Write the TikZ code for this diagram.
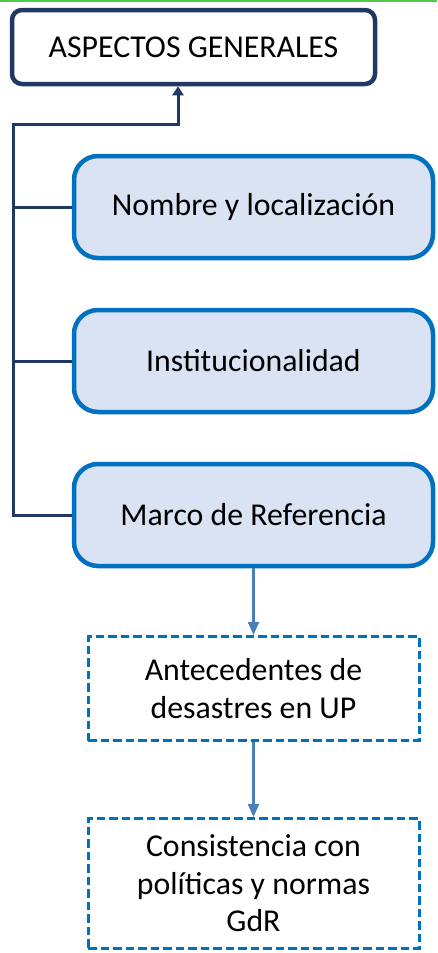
\documentclass[tikz,border=0pt]{standalone}
\usepackage{fontspec}
\setmainfont{Carlito}
\usetikzlibrary{arrows.meta,calc}
\definecolor{navy}{HTML}{1F3864}
\definecolor{bblue}{HTML}{0070C0}
\definecolor{lfill}{HTML}{DAE3F3}
\definecolor{arrblue}{HTML}{4A7EBB}
\definecolor{topgreen}{HTML}{4CCB4C}
\begin{document}
\begin{tikzpicture}[x=1pt,y=-1pt,
  txt/.style={font=\fontsize{31.8}{37.5}\selectfont, align=center, text=black},
  topbox/.style={txt, draw=navy, line width=4.5pt, rounded corners=10pt, fill=white, minimum width=363pt, minimum height=74pt, inner sep=0pt},
  mainbox/.style={txt, draw=bblue, line width=4.5pt, rounded corners=24pt, fill=lfill, minimum width=359pt, minimum height=102pt, inner sep=0pt},
  dashbox/.style={txt, draw=bblue, line width=3pt, dash pattern=on 8.5pt off 4pt, minimum width=331pt, inner sep=0pt},
  conn/.style={draw=navy, line width=3pt},
  flow/.style={draw=arrblue, line width=2.2pt, -{Triangle[width=11pt,length=13pt]}}
]
\useasboundingbox (0,0) rectangle (437,953);
\draw[topgreen, line width=2pt] (0,1) -- (437,1);
\node[topbox] (top) at (193.5,47) {ASPECTOS GENERALES};
\node[mainbox] (nombre) at (253.5,207) {Nombre y localización};
\node[mainbox] (inst) at (253.5,361) {Institucionalidad};
\node[mainbox] (marco) at (253.5,515) {Marco de Referencia};
\node[dashbox, minimum height=104pt] (ante) at (253.5,688.5) {Antecedentes de\\desastres en UP};
\node[dashbox, minimum height=130pt] (cons) at (253.5,883.5) {Consistencia con\\políticas y normas\\GdR};
\coordinate (tl) at (13,124);
\coordinate (bl) at (13,515);
\draw[conn, -{Triangle[width=11pt,length=9pt]}] (marco.west) -- (bl) -- (tl) -| ($(top.south)+(-15.5,0)$);
\draw[conn] (nombre.west) -- (nombre.west -| tl);
\draw[conn] (inst.west) -- (inst.west -| tl);
\draw[flow] (marco.south) -- (ante.north);
\draw[flow] (ante.south) -- (cons.north);
\end{tikzpicture}
\end{document}
